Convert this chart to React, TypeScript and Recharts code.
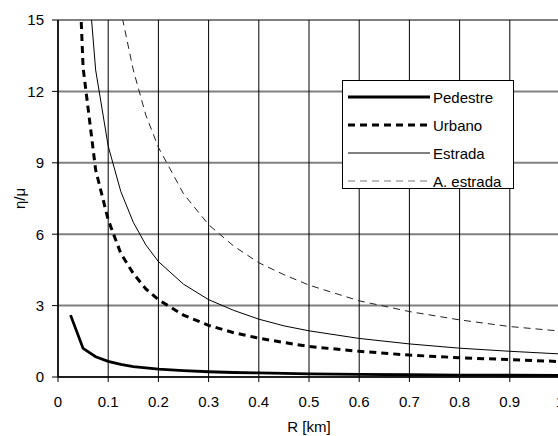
import React from 'react';
import { LineChart, Line, XAxis, YAxis, CartesianGrid, Legend } from 'recharts';

const radius = [0.025, 0.05, 0.075, 0.1, 0.125, 0.15, 0.175, 0.2, 0.25, 0.3, 0.35, 0.4, 0.45, 0.5, 0.6, 0.7, 0.8, 0.9, 1.0];
const pedestre = [2.6, 1.2, 0.85, 0.66, 0.53, 0.44, 0.38, 0.33, 0.27, 0.22, 0.19, 0.17, 0.15, 0.13, 0.11, 0.095, 0.083, 0.074, 0.066];
const urbano = [26, 13, 8.7, 6.6, 5.2, 4.35, 3.7, 3.25, 2.6, 2.17, 1.86, 1.63, 1.45, 1.28, 1.08, 0.92, 0.81, 0.73, 0.65];
const estrada = [38.8, 19.4, 12.9, 9.7, 7.8, 6.5, 5.55, 4.85, 3.9, 3.25, 2.8, 2.43, 2.15, 1.94, 1.62, 1.39, 1.21, 1.08, 0.97];
const aEstrada = [77, 38.6, 25.7, 19.3, 15.4, 12.9, 11.0, 9.65, 7.7, 6.4, 5.5, 4.8, 4.3, 3.86, 3.2, 2.75, 2.4, 2.12, 1.93];

const xTicks = [0, 0.1, 0.2, 0.3, 0.4, 0.5, 0.6, 0.7, 0.8, 0.9, 1];
const xTickLabels = ['0', '0.1', '0.2', '0.3', '0.4', '0.5', '0.6', '0.7', '0.8', '0.9', '1'];
const yTicks = [0, 3, 6, 9, 12, 15];

const seriesNames = ['Pedestre', 'Urbano', 'Estrada', 'A. estrada'];

const data = radius.map((r, i) => ({
  r,
  Pedestre: pedestre[i],
  Urbano: urbano[i],
  Estrada: estrada[i],
  'A. estrada': aEstrada[i],
}));

const FONT = '"Liberation Sans", Arial, sans-serif';

const lineStyles: Record<string, { width: number; dash?: string; color: string; legendColor: string }> = {
  Pedestre: { width: 2.8, color: '#000', legendColor: '#000' },
  Urbano: { width: 3, dash: '7 5', color: '#000', legendColor: '#000' },
  Estrada: { width: 1, color: '#000', legendColor: '#000' },
  'A. estrada': { width: 1, dash: '7 5', color: '#222', legendColor: '#777' },
};

const renderLegend = () => (
  <div
    style={{
      position: 'relative',
      width: 172,
      height: 109,
      border: '1px solid #000',
      background: '#fff',
      fontFamily: FONT,
      fontSize: 15,
      color: '#000',
      boxSizing: 'border-box',
    }}
  >
    {seriesNames.map((name, i) => {
      const s = lineStyles[name];
      return (
        <div
          key={name}
          style={{ position: 'absolute', left: 5, top: 16 + i * 28 - 10, height: 20, display: 'flex', alignItems: 'center' }}
        >
          <svg width={82} height={20} style={{ display: 'block' }}>
            <line x1={0} y1={10} x2={82} y2={10} stroke={s.legendColor} strokeWidth={s.width} strokeDasharray={s.dash} />
          </svg>
          <span style={{ marginLeft: 3, whiteSpace: 'nowrap' }}>{name}</span>
        </div>
      );
    })}
  </div>
);

export default function App() {
  return (
    <div style={{ position: 'absolute', left: 0, top: 0, width: 558, height: 436, overflow: 'hidden', background: '#fff' }}>
      <LineChart width={575} height={436} data={data} margin={{ top: 20, right: 15, bottom: 0, left: 0 }}>
        <CartesianGrid horizontal={true} vertical={false} stroke="#808080" strokeWidth={2} />
        <CartesianGrid horizontal={false} vertical={true} stroke="#000" strokeWidth={1} />
        <XAxis
          dataKey="r"
          type="number"
          domain={[0, 1]}
          ticks={xTicks}
          tickFormatter={(v: number) => xTickLabels[xTicks.indexOf(v)] ?? String(v)}
          height={59}
          tickSize={5}
          tickMargin={14}
          axisLine={{ stroke: '#000', strokeWidth: 1.5 }}
          tickLine={{ stroke: '#000' }}
          tick={{ fill: '#000', fontSize: 15, fontFamily: FONT }}
          interval={0}
          label={{ value: 'R [km]', position: 'insideBottom', offset: 4, fill: '#000', fontSize: 15, fontFamily: FONT }}
        />
        <YAxis
          type="number"
          domain={[0, 15]}
          ticks={yTicks}
          allowDataOverflow
          width={58}
          tickSize={6}
          tickMargin={8}
          axisLine={{ stroke: '#000', strokeWidth: 1.5 }}
          tickLine={{ stroke: '#000' }}
          tick={{ fill: '#000', fontSize: 15, fontFamily: FONT }}
          interval={0}
          label={{ value: 'η/μ', angle: -90, position: 'center', dx: -9, dy: 0, fill: '#000', fontSize: 15, fontFamily: FONT }}
        />
        <Legend
          layout="vertical"
          align="center"
          verticalAlign="middle"
          content={renderLegend}
          wrapperStyle={{ position: 'absolute', left: 342, top: 80, width: 172, height: 109 }}
        />
        {seriesNames.map((name) => {
          const s = lineStyles[name];
          return (
            <Line
              key={name}
              type="linear"
              dataKey={name}
              stroke={s.color}
              strokeWidth={s.width}
              strokeDasharray={s.dash}
              dot={false}
              activeDot={false}
              isAnimationActive={false}
            />
          );
        })}
      </LineChart>
    </div>
  );
}
